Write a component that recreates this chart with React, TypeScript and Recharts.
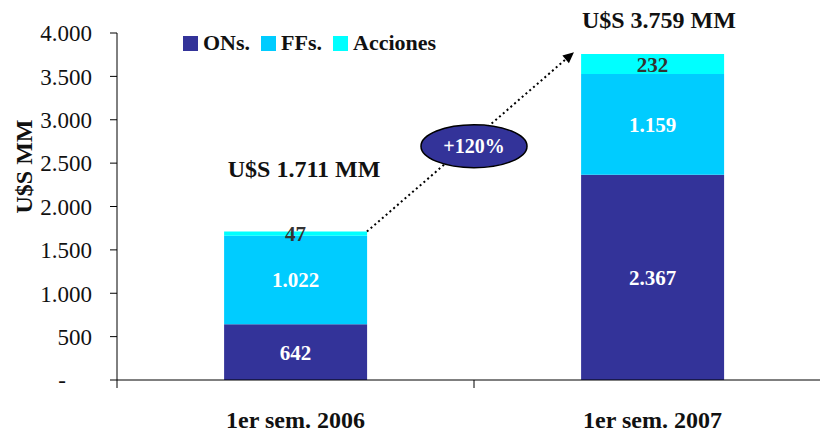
import {
  Bar,
  BarChart,
  LabelList,
  Legend,
  ReferenceDot,
  ReferenceLine,
  XAxis,
  YAxis,
} from "recharts";

const categories = ["1er sem. 2006", "1er sem. 2007"];
const ons = [642, 2367];
const ffs = [1022, 1159];
const acciones = [47, 232];
const totals = [1711, 3759];
const growthLabel = "+120%";
const yTicks = [0, 500, 1000, 1500, 2000, 2500, 3000, 3500, 4000];

const data = categories.map((name, i) => ({
  name,
  pos: i,
  ons: ons[i],
  ffs: ffs[i],
  acciones: acciones[i],
}));

const FONT = '"Liberation Serif", "Times New Roman", serif';
const NAVY = "#333399";
const SKY = "#00CCFF";
const CYAN = "#00FFFF";

const series = [
  { key: "ons", name: "ONs.", color: NAVY, labelColor: "#ffffff" },
  { key: "ffs", name: "FFs.", color: SKY, labelColor: "#ffffff" },
  { key: "acciones", name: "Acciones", color: CYAN, labelColor: "#333333" },
];

const fmt = (n: number) => String(n).replace(/\B(?=(\d{3})+(?!\d))/g, ".");

function YTick({ x, y, payload }: any) {
  const v = payload.value as number;
  return (
    <text
      x={v === 0 ? x - 26 : x}
      y={y}
      dy="0.36em"
      textAnchor="end"
      fontFamily={FONT}
      fontSize={23}
      fill="#111"
    >
      {v === 0 ? "-" : fmt(v)}
    </text>
  );
}

function XTick({ x, y, payload }: any) {
  const v = payload.value as number;
  if (Number.isInteger(v)) {
    return (
      <text
        x={x}
        y={y + 48}
        textAnchor="middle"
        fontFamily={FONT}
        fontSize={24}
        fontWeight="bold"
        fill="#111"
      >
        {categories[v]}
      </text>
    );
  }
  return <line x1={x} x2={x} y1={y} y2={y + 8} stroke="#000" />;
}

function LegendContent() {
  return (
    <div style={{ display: "flex", alignItems: "center", fontFamily: FONT }}>
      {series.map((s) => (
        <div key={s.key} style={{ display: "flex", alignItems: "center", marginRight: 11 }}>
          <span style={{ width: 15, height: 15, background: s.color, display: "inline-block" }} />
          <span style={{ marginLeft: 5, fontSize: 22, fontWeight: "bold", color: "#111" }}>
            {s.name}
          </span>
        </div>
      ))}
    </div>
  );
}

function Arrow(props: any) {
  const { x1, y1, x2, y2 } = props;
  const ang = Math.atan2(y2 - y1, x2 - x1);
  const len = 11;
  const w = 5;
  const bx = x2 - len * Math.cos(ang);
  const by = y2 - len * Math.sin(ang);
  const px = -Math.sin(ang) * w;
  const py = Math.cos(ang) * w;
  return (
    <g>
      <line x1={x1} y1={y1} x2={bx} y2={by} stroke="#000" strokeWidth={2} strokeDasharray="2 3" />
      <polygon points={`${x2},${y2} ${bx + px},${by + py} ${bx - px},${by - py}`} fill="#000" />
    </g>
  );
}

function Badge(props: any) {
  const { cx, cy } = props;
  return (
    <g>
      <ellipse cx={cx} cy={cy} rx={53} ry={21.5} fill={NAVY} stroke="#000" strokeWidth={1.5} />
      <text
        x={cx}
        y={cy}
        dy="0.35em"
        textAnchor="middle"
        fontFamily={FONT}
        fontSize={20}
        fontWeight="bold"
        fill="#fff"
      >
        {growthLabel}
      </text>
    </g>
  );
}

const totalShape = (i: number) => (props: any) => (
  <text
    x={props.cx}
    y={props.cy}
    dy="0.35em"
    textAnchor="middle"
    fontFamily={FONT}
    fontSize={24}
    fontWeight="bold"
    fill="#111"
  >
    {`U$S ${fmt(totals[i])} MM`}
  </text>
);

function YLabel({ viewBox }: any) {
  const cx = 24;
  const cy = viewBox.y + viewBox.height / 2 - 40;
  return (
    <text
      x={cx}
      y={cy}
      dy="0.35em"
      textAnchor="middle"
      transform={`rotate(-90, ${cx}, ${cy})`}
      fontFamily={FONT}
      fontSize={24}
      fontWeight="bold"
      fill="#111"
    >
      U$S MM
    </text>
  );
}

export default function App() {
  return (
    <div
      style={{
        position: "absolute",
        left: 0,
        top: 0,
        width: 820,
        height: 432,
        overflow: "hidden",
        background: "#fff",
      }}
    >
      <BarChart
        width={831}
        height={432}
        data={data}
        margin={{ top: 33, right: 0, bottom: 0, left: 0 }}
        barCategoryGap="30%"
      >
        <XAxis dataKey="name" hide height={0} />
        <XAxis
          xAxisId="n"
          dataKey="pos"
          type="number"
          domain={[-0.5, 1.5]}
          ticks={[-0.5, 0, 0.5, 1, 1.5]}
          interval={0}
          height={52}
          tickSize={0}
          tickMargin={0}
          tickLine={false}
          axisLine={{ stroke: "#000" }}
          tick={<XTick />}
          allowDataOverflow
        />
        <YAxis
          width={117}
          domain={[0, 4000]}
          ticks={yTicks}
          interval={0}
          tickSize={7}
          tickMargin={18}
          axisLine={{ stroke: "#000" }}
          tickLine={{ stroke: "#000" }}
          tick={<YTick />}
          label={<YLabel />}
        />
        <Legend
          verticalAlign="middle"
          align="center"
          content={<LegendContent />}
          wrapperStyle={{ top: 30, left: 183, width: "auto" }}
        />
        {series.map((s) => (
          <Bar
            key={s.key}
            dataKey={s.key}
            name={s.name}
            stackId="a"
            fill={s.color}
            isAnimationActive={false}
          >
            <LabelList
              dataKey={s.key}
              position="center"
              formatter={(v: any) => fmt(Number(v))}
              fill={s.labelColor}
              fontFamily={FONT}
              fontSize={21}
              fontWeight="bold"
            />
          </Bar>
        ))}
        <ReferenceLine
          xAxisId="n"
          segment={[
            { x: 0.2, y: totals[0] },
            { x: 0.78, y: totals[1] + 20 },
          ]}
          shape={<Arrow />}
        />
        <ReferenceDot xAxisId="n" x={0.5} y={2695} r={0} shape={<Badge />} ifOverflow="visible" />
        <ReferenceDot xAxisId="n" x={0.024} y={2441} r={0} shape={totalShape(0)} ifOverflow="visible" />
        <ReferenceDot xAxisId="n" x={1.018} y={4150} r={0} shape={totalShape(1)} ifOverflow="visible" />
      </BarChart>
    </div>
  );
}
